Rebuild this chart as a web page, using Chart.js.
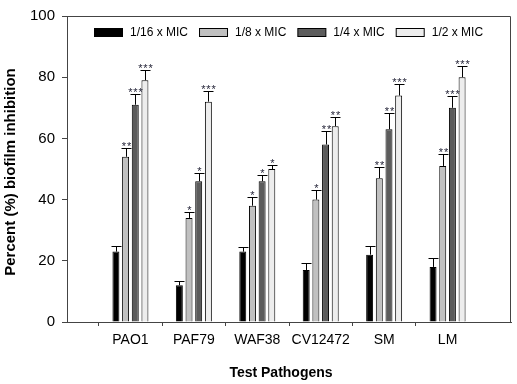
<!DOCTYPE html>
<html>
<head>
<meta charset="utf-8">
<script src="https://cdn.jsdelivr.net/npm/chart.js@4.4.1/dist/chart.umd.min.js"></script>
<style>
html,body{margin:0;padding:0;background:#fff;}
#wrap{width:517px;height:384px;position:relative;}
</style>
</head>
<body>
<div id="wrap"><canvas id="c" width="517" height="384"></canvas></div>
<script>
const categories = ['PAO1', 'PAF79', 'WAF38', 'CV12472', 'SM', 'LM'];
const seriesNames = ['1/16 x MIC', '1/8 x MIC', '1/4 x MIC', '1/2 x MIC'];
const mic16 = [23, 12, 23, 17, 22, 18];
const mic8  = [54, 34, 38, 40, 47, 51];
const mic4  = [71, 46, 46, 58, 63, 70];
const mic2  = [79, 72, 50, 64, 74, 80];
const err16 = [2.0, 1.3, 1.6, 2.3, 3.0, 2.9];
const err8  = [3.0, 2.0, 3.0, 3.2, 3.6, 3.9];
const err4  = [3.4, 2.7, 2.1, 4.4, 5.2, 3.8];
const err2  = [3.2, 3.4, 1.2, 2.9, 3.8, 3.5];
const stars16 = ['', '', '', '', '', ''];
const stars8  = ['**', '*', '*', '*', '**', '**'];
const stars4  = ['***', '*', '*', '**', '**', '***'];
const stars2  = ['***', '***', '*', '**', '***', '***'];
const yTicks = [0, 20, 40, 60, 80, 100];
const xTitle = 'Test Pathogens';
const yTitle = 'Percent (%) biofilm inhibition';

const FONT = '"Liberation Sans", Arial, sans-serif';
const pad = a => [null].concat(a, [null]);
const labels = [''].concat(categories, ['']);
const fills = ['#000000', '#c0c0c0', '#5c5c5c', '#ededed'];
const values = [mic16, mic8, mic4, mic2];
const errs = [err16, err8, err4, err2];
const stars = [stars16, stars8, stars4, stars2];

const datasets = values.map((v, i) => ({
  label: seriesNames[i],
  data: pad(v),
  errors: pad(errs[i]),
  stars: pad(stars[i]),
  backgroundColor: fills[i],
  borderColor: '#000',
  borderWidth: 1,
  categoryPercentage: 0.61,
  barPercentage: 0.72
}));

const errorPlugin = {
  id: 'errorbars',
  afterDatasetsDraw(chart) {
    const ctx = chart.ctx;
    const y = chart.scales.y;
    ctx.save();
    chart.data.datasets.forEach((ds, di) => {
      const meta = chart.getDatasetMeta(di);
      meta.data.forEach((el, i) => {
        const v = ds.data[i];
        if (v === null || v === undefined) return;
        const e = ds.errors[i];
        const yTop = Math.round(y.getPixelForValue(v + e)) + 0.5;
        const x = Math.round(el.x) + 0.5;
        ctx.strokeStyle = '#000';
        ctx.lineWidth = 1;
        ctx.beginPath();
        ctx.moveTo(x, el.y);
        ctx.lineTo(x, yTop);
        ctx.moveTo(x - 5, yTop);
        ctx.lineTo(x + 5, yTop);
        ctx.stroke();
        const s = ds.stars[i];
        if (s) {
          ctx.fillStyle = '#1f1f33';
          ctx.font = '11px ' + FONT;
          ctx.textAlign = 'center';
          ctx.textBaseline = 'alphabetic';
          ctx.fillText(s.split('').join('\u200A'), x, yTop + 1);
        }
      });
    });
    ctx.restore();
  }
};

const decorPlugin = {
  id: 'decor',
  afterDraw(chart) {
    const a = chart.chartArea;
    const ctx = chart.ctx;
    ctx.save();
    // frame (top and right)
    ctx.strokeStyle = '#444';
    ctx.lineWidth = 1;
    ctx.beginPath();
    ctx.moveTo(Math.round(a.left) + 0.5, Math.round(a.top) + 0.5);
    ctx.lineTo(Math.round(a.right) - 0.5, Math.round(a.top) + 0.5);
    ctx.lineTo(Math.round(a.right) - 0.5, Math.round(a.bottom) + 0.5);
    ctx.stroke();

    // legend inside the plot area
    ctx.font = '12px ' + FONT;
    const boxW = 28, boxH = 8, gapText = 8, gapItem = 11;
    const widths = chart.data.datasets.map(d => boxW + gapText + ctx.measureText(d.label).width);
    const total = widths.reduce((s, w) => s + w, 0) + gapItem * (widths.length - 1);
    let x = Math.round((a.left + a.right) / 2 - total / 2);
    const cy = a.top + 16;
    chart.data.datasets.forEach((d, i) => {
      ctx.fillStyle = d.backgroundColor;
      ctx.fillRect(x + 0.5, cy - boxH / 2 + 0.5, boxW, boxH);
      ctx.strokeStyle = '#000';
      ctx.strokeRect(x + 0.5, cy - boxH / 2 + 0.5, boxW, boxH);
      ctx.fillStyle = '#000';
      ctx.textAlign = 'left';
      ctx.textBaseline = 'middle';
      ctx.fillText(d.label, x + boxW + gapText, cy + 1);
      x += widths[i] + gapItem;
    });

    // axis titles
    ctx.fillStyle = '#000';
    ctx.textAlign = 'center';
    ctx.textBaseline = 'middle';
    ctx.font = 'bold 14px ' + FONT;
    ctx.fillText(xTitle, 281, 373);
    ctx.translate(11, 172);
    ctx.rotate(-Math.PI / 2);
    ctx.font = 'bold 15px ' + FONT;
    ctx.fillText(yTitle, 0, 0);
    ctx.restore();
  }
};

new Chart(document.getElementById('c'), {
  type: 'bar',
  data: { labels, datasets },
  plugins: [errorPlugin, decorPlugin],
  options: {
    responsive: false,
    animation: false,
    devicePixelRatio: 1,
    layout: { padding: { top: 9, right: 4, left: 0, bottom: 0 } },
    plugins: {
      tooltip: { enabled: false },
      legend: { display: false }
    },
    scales: {
      x: {
        type: 'category',
        offset: false,
        afterFit: s => { s.height = 62; },
        grid: {
          display: true,
          drawOnChartArea: false,
          drawTicks: true,
          tickLength: 4,
          color: c => (c.index === 0 || c.index === labels.length - 1) ? 'rgba(0,0,0,0)' : '#444'
        },
        border: { display: true, color: '#444', width: 1 },
        ticks: {
          color: '#000',
          padding: 6,
          maxRotation: 0,
          autoSkip: false,
          font: { family: FONT, size: 14 }
        },
        title: { display: false }
      },
      y: {
        min: 0,
        max: 100,
        afterFit: s => { s.width = 67; },
        afterBuildTicks: s => { s.ticks = yTicks.map(v => ({ value: v })); },
        grid: {
          display: true,
          drawOnChartArea: false,
          drawTicks: true,
          tickLength: 5,
          color: '#444'
        },
        border: { display: true, color: '#444', width: 1 },
        ticks: {
          color: '#000',
          padding: 7,
          font: { family: FONT, size: 15 }
        },
        title: { display: false }
      }
    }
  }
});
</script>
</body>
</html>
